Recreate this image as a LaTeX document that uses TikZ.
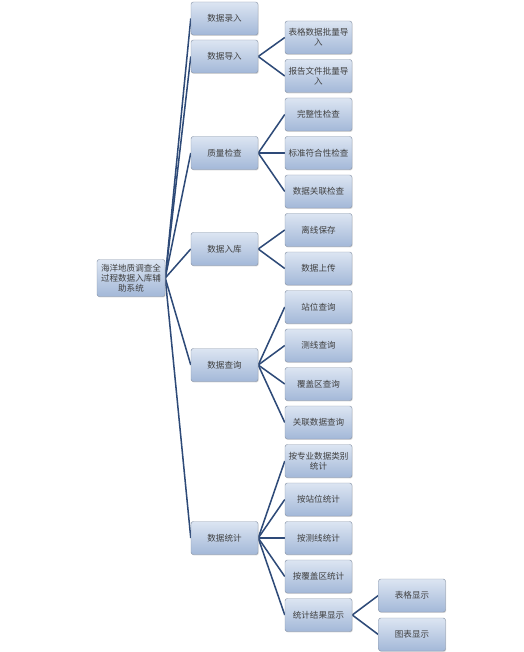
\documentclass[tikz,border=0pt]{standalone}
\usepackage{fontspec}
\setmainfont{Noto Sans CJK SC}
\usetikzlibrary{%
  shadows,% drop shadow of the boxes
  backgrounds%
}
\definecolor{boxtop}{HTML}{DCE5F2}
\definecolor{boxbot}{HTML}{A3B8D8}
\definecolor{boxline}{HTML}{8D99AB}
\definecolor{linkcol}{HTML}{2E4A78}

\begin{document}
\begin{tikzpicture}[
    x=0.03cm, y=-0.03cm,
    box/.style={rectangle, rounded corners=2pt, draw=boxline, thin,
      top color=boxtop, bottom color=boxbot,
      minimum width=2.01cm, minimum height=0.99cm, inner sep=1pt,
      align=center, font=\fontsize{7.3}{8.6}\selectfont, text=black!75,
      drop shadow={opacity=0.3, shadow xshift=0.6pt, shadow yshift=-0.8pt}},
    link/.style={draw=linkcol, line width=1.3pt}
  ]
  \useasboundingbox (0,0) rectangle (523,652);

  % root
  \node[box, minimum width=2.04cm, minimum height=1.11cm] at (131,278) (root)
    {海洋地质调查全\\过程数据入库辅\\助系统};

  % first level
  \foreach \n/\y/\t in {1/18.5/数据录入, 2/56.5/数据导入, 3/153/质量检查,
      4/249/数据入库, 5/365/数据查询, 6/538/数据统计}{
    \node[box] at (224.5,\y) (\n) {\t};}

  % second level
  \foreach \n/\k/\t in {21/0/{表格数据批量导\\入}, 22/1/{报告文件批量导\\入},
      31/2/完整性检查, 32/3/标准符合性检查, 33/4/数据关联检查,
      41/5/离线保存, 42/6/数据上传,
      51/7/站位查询, 52/8/测线查询, 53/9/覆盖区查询, 54/10/关联数据查询,
      61/11/{按专业数据类别\\统计}, 62/12/按站位统计, 63/13/按测线统计,
      64/14/按覆盖区统计, 65/15/统计结果显示}{
    \node[box] at (318.5,{37.5+38.5*\k}) (\n) {\t};}

  % third level
  \node[box] at (412,595.5) (651) {表格显示};
  \node[box] at (412,634.5) (652) {图表显示};

  % draw connections
  \begin{scope}[on background layer]
    \fill[white] (0,0) rectangle (523,652);
    \foreach \c in {1,...,6}{
      \draw[link] (root.east) -- (\c.west);}
    \foreach \p/\c in {2/21, 2/22, 3/31, 3/32, 3/33, 4/41, 4/42,
        5/51, 5/52, 5/53, 5/54, 6/61, 6/62, 6/63, 6/64, 6/65,
        65/651, 65/652}{
      \draw[link] (\p.east) -- (\c.west);}
  \end{scope}
\end{tikzpicture}
\end{document}
